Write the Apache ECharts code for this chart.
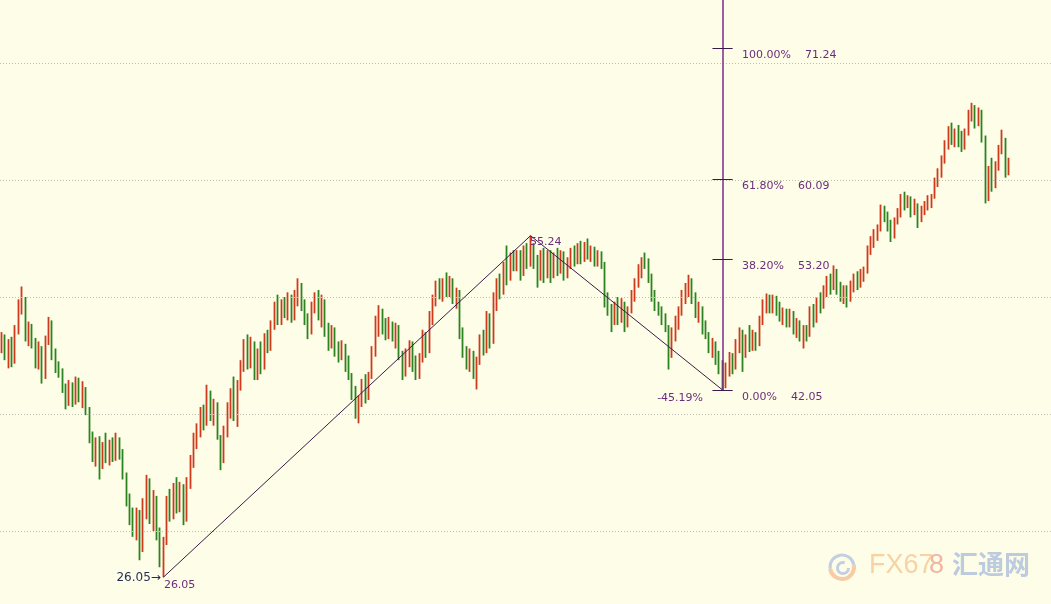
<!DOCTYPE html>
<html><head><meta charset="utf-8">
<script src="https://cdn.jsdelivr.net/npm/echarts@6/dist/echarts.min.js"></script>
<style>html,body{margin:0;padding:0;background:#fefee8;}#c{width:1051px;height:604px;}</style>
</head><body><div id="c"></div><script>
// Each bar: [open, close, low, high]
const bars = [
[45.5,46.5,45.2,47.0],[46.5,45.0,44.6,46.8],[45.0,46.0,43.9,46.4],[46.0,44.6,44.0,46.6],[44.6,47.2,44.3,47.6],
[47.2,49.4,46.8,49.8],[49.4,50.2,48.5,50.9],[49.8,46.6,46.2,50.0],[46.6,47.4,45.8,47.9],[47.4,46.0,45.6,47.7],
[46.0,44.3,43.9,46.5],[44.3,45.5,43.8,46.2],[45.5,43.2,42.6,45.8],[43.2,46.3,43.0,46.7],[46.3,47.8,45.9,48.3],
[47.8,45.0,44.6,48.0],[45.0,44.0,43.5,45.6],[44.0,43.6,43.1,44.5],[43.6,42.2,41.8,43.9],[42.2,41.0,40.4,42.6],
[41.0,42.4,40.7,42.9],[42.4,41.1,40.6,42.7],[41.1,42.6,40.8,43.2],[42.6,41.5,41.0,43.1],[41.5,42.0,40.5,42.8],
[42.0,40.3,39.9,42.3],[40.3,38.0,37.5,40.6],[38.0,36.3,35.9,38.5],[36.3,37.6,35.5,38.0],[37.6,35.6,34.4,38.1],
[35.6,37.0,35.3,37.6],[37.0,36.2,35.8,38.4],[36.2,37.4,35.6,37.8],[37.4,36.4,35.9,38.0],[36.4,37.8,36.0,38.4],
[37.8,36.6,36.1,38.0],[36.6,34.8,34.4,37.0],[34.8,32.6,32.1,35.0],[32.6,31.0,30.5,33.2],[31.0,29.8,29.5,32.0],
[29.8,31.5,29.2,32.0],[31.5,28.0,27.5,31.8],[28.5,32.4,28.2,32.8],[32.4,34.2,31.0,34.8],[34.2,31.2,30.6,34.5],
[31.2,32.8,30.0,33.5],[32.8,29.8,29.2,33.0],[29.8,27.6,26.9,30.3],[27.6,29.0,26.05,29.5],[29.0,32.5,28.8,33.0],
[32.5,31.3,30.8,33.6],[31.3,33.4,31.0,34.1],[33.4,32.0,31.5,34.6],[32.0,33.8,31.6,34.2],[33.8,31.0,30.5,34.0],
[31.0,34.2,30.8,34.6],[34.2,36.0,33.6,36.5],[36.0,37.6,35.4,38.4],[37.6,38.6,37.0,39.2],[38.6,40.0,38.0,40.6],
[40.0,39.2,38.6,40.8],[39.2,41.8,39.0,42.5],[41.8,40.0,39.4,42.0],[40.0,40.8,39.0,41.3],[40.8,38.4,37.8,41.0],
[38.4,36.0,35.2,38.2],[36.0,38.6,35.8,39.0],[38.6,40.4,38.0,41.0],[40.4,41.6,39.6,42.2],[41.6,39.6,39.4,43.2],
[39.6,42.6,38.9,42.9],[42.6,44.0,42.0,44.6],[44.0,45.8,43.6,46.4],[45.8,44.4,43.8,46.8],[44.4,45.9,43.9,46.6],
[45.9,43.4,42.9,46.2],[43.4,45.0,42.9,45.6],[45.0,44.0,43.4,46.2],[44.0,46.4,43.8,46.9],[46.4,45.6,45.2,47.2],
[45.6,47.6,45.4,48.0],[47.6,49.2,47.2,49.6],[49.2,48.0,47.6,50.2],[48.0,49.4,47.6,49.8],[49.4,48.6,48.2,50.0],
[48.6,49.8,48.0,50.4],[49.8,48.4,47.8,50.2],[48.4,50.2,48.0,50.6],[50.2,51.0,49.2,51.6],[51.0,49.4,48.8,51.2],
[49.4,48.2,47.6,49.8],[48.2,47.0,46.4,48.6],[47.0,49.0,46.8,49.6],[49.0,50.0,48.6,50.4],[50.0,48.6,48.0,50.6],
[48.6,49.6,47.4,50.2],[49.6,47.0,46.6,49.8],[47.0,46.0,45.4,47.8],[46.0,47.2,45.6,47.6],[47.2,45.6,44.9,47.4],
[45.6,44.8,44.4,46.2],[44.8,45.8,44.6,46.3],[45.8,44.2,43.6,46.0],[44.2,43.4,42.9,45.0],[43.4,42.0,41.2,43.5],
[42.0,40.2,39.6,42.4],[40.2,41.2,39.2,41.6],[41.2,42.6,40.6,43.0],[42.6,41.4,40.9,43.4],[41.4,43.2,41.2,43.6],
[43.2,45.2,43.0,45.8],[45.2,47.8,44.9,48.4],[47.8,48.8,46.6,49.3],[48.8,47.4,46.8,49.0],[47.4,46.8,46.3,48.2],
[46.8,47.6,46.4,48.3],[47.6,46.6,46.2,47.9],[46.6,47.4,45.6,47.8],[47.4,45.0,44.6,47.6],[45.0,43.6,42.9,45.4],
[43.6,45.2,43.2,45.6],[45.2,46.0,44.0,46.3],[46.0,44.4,43.6,46.2],[44.4,43.4,42.9,45.0],[43.4,44.8,43.0,45.2],
[44.8,46.6,44.4,47.2],[46.6,45.4,44.8,47.0],[45.4,48.2,45.2,48.8],[48.2,49.6,47.6,50.2],[49.6,51.0,49.2,51.4],
[51.0,50.2,49.8,51.6],[50.2,51.2,49.6,51.6],[51.2,50.6,50.0,52.1],[50.6,51.4,50.0,51.8],[51.4,49.8,49.4,51.6],
[49.8,50.4,49.0,50.8],[50.4,47.2,46.4,50.6],[47.2,45.4,44.8,47.4],[45.4,44.4,43.8,45.8],[44.4,45.2,43.6,45.6],
[45.2,43.6,43.0,45.4],[43.6,44.6,42.1,44.9],[44.6,46.4,44.2,46.8],[46.4,45.4,45.0,47.2],[45.4,48.2,45.2,48.8],
[48.2,46.4,45.6,48.6],[46.4,49.8,46.0,50.4],[49.8,51.0,48.8,51.6],[51.0,50.4,49.8,52.0],[50.4,52.6,50.2,53.0],
[52.6,51.6,51.0,54.4],[51.6,53.2,51.4,53.8],[53.2,52.6,52.2,54.0],[52.6,53.6,52.2,54.0],[53.6,52.2,51.4,54.0],
[52.2,53.8,51.8,54.4],[53.8,52.8,52.4,54.6],[52.8,54.2,52.6,55.24],[54.2,53.0,52.4,54.6],[53.0,51.6,50.8,53.6],
[51.6,53.4,51.4,54.0],[53.4,52.0,51.2,54.2],[52.0,53.6,51.6,54.0],[53.6,51.8,51.2,54.0],[51.8,53.2,51.6,53.8],
[53.2,52.4,51.8,54.2],[52.4,53.6,52.0,54.0],[53.6,52.2,51.4,53.9],[52.2,53.0,51.6,53.4],[53.0,53.8,52.4,54.2],
[53.8,53.0,52.6,54.4],[53.0,54.2,52.8,54.6],[54.2,53.4,52.8,54.8],[53.4,54.4,53.0,54.7],[54.4,53.6,53.2,55.0],
[53.6,54.0,53.0,54.4],[54.0,53.0,52.6,54.3],[53.0,53.8,52.6,54.0],[53.8,52.8,52.4,53.9],[52.8,49.6,49.1,53.0],
[49.6,49.0,48.4,50.4],[49.0,48.0,47.0,49.4],[48.0,49.2,47.6,49.6],[49.2,48.2,47.6,50.0],[48.2,49.4,47.8,49.9],
[49.4,47.8,47.0,49.6],[47.8,48.8,47.4,49.2],[48.8,50.2,48.6,50.6],[50.2,51.2,49.6,51.6],[51.2,52.4,50.8,52.8],
[52.4,53.0,51.6,53.4],[53.0,52.8,52.4,53.8],[52.8,51.6,51.2,53.3],[51.6,50.2,49.6,52.0],[50.2,49.4,48.8,50.6],
[49.4,48.8,48.4,49.6],[48.8,48.2,47.6,49.2],[48.2,47.6,47.0,48.6],[47.0,45.0,43.8,47.6],[45.0,46.8,44.8,47.4],
[46.8,47.8,46.2,48.4],[47.8,48.8,47.2,49.2],[48.8,50.0,48.4,50.6],[50.0,50.8,49.4,51.2],[50.8,51.4,50.0,51.9],
[51.4,49.8,49.4,51.6],[49.8,48.6,48.2,50.4],[48.6,49.0,47.8,49.6],[49.0,47.4,46.8,49.2],[47.4,46.8,46.4,48.0],
[46.8,45.6,45.2,47.0],[45.6,46.0,44.8,46.5],[46.0,44.8,44.2,46.2],[44.8,44.0,43.4,45.4],[44.0,42.6,42.05,44.6],
[42.6,43.8,42.2,44.4],[43.8,44.8,43.2,45.3],[44.8,44.0,43.4,45.2],[44.0,45.8,43.8,46.4],[45.8,47.0,45.2,47.4],
[47.0,45.0,43.6,47.2],[45.0,46.4,44.8,46.8],[46.4,45.8,45.3,47.6],[45.8,46.6,45.4,47.2],[46.6,46.0,45.4,47.0],
[46.0,47.8,45.8,48.4],[47.8,49.4,47.6,49.8],[49.4,49.8,48.6,50.3],[49.8,49.0,48.6,50.2],[49.0,49.8,48.6,50.2],
[49.8,49.0,48.4,50.1],[49.0,48.4,47.9,49.6],[48.4,48.8,47.6,49.1],[48.8,47.8,47.4,49.0],[47.8,48.6,47.4,49.0],
[48.6,47.4,46.8,48.8],[47.4,47.8,46.5,48.2],[47.8,46.6,46.2,48.0],[46.6,47.2,45.6,47.6],[47.2,46.8,46.2,47.6],
[46.8,48.8,46.6,49.2],[48.8,48.0,47.4,49.4],[48.0,49.6,47.8,50.0],[49.6,49.2,48.6,50.4],[49.2,50.6,49.0,51.0],
[50.6,51.4,50.0,51.8],[51.4,50.8,50.2,52.0],[50.8,52.2,50.6,52.7],[52.2,50.8,50.2,52.4],[50.8,50.2,49.6,51.3],
[50.2,50.6,49.4,51.0],[50.6,49.8,49.1,51.0],[49.8,50.8,49.6,51.4],[50.8,51.6,50.4,52.0],[51.6,51.0,50.6,52.2],
[51.0,52.0,50.8,52.4],[52.0,52.2,51.3,52.6],[52.2,54.0,52.0,54.4],[54.0,54.8,53.6,55.2],[54.8,55.4,54.2,55.8],
[55.4,55.8,54.8,56.2],[55.8,57.4,55.6,57.9],[57.4,56.8,56.4,57.8],[56.8,56.0,55.6,57.3],[56.0,55.2,54.7,56.6],
[55.2,56.4,55.0,56.8],[56.4,57.0,56.2,57.6],[57.0,58.4,56.8,58.8],[58.4,58.0,57.4,59.0],[58.0,58.4,57.6,58.7],
[58.4,57.4,56.8,58.6],[57.4,57.8,57.0,58.4],[57.8,56.6,55.9,58.0],[56.6,57.4,56.4,57.8],[57.4,57.8,57.0,58.2],
[57.8,58.2,57.4,58.7],[58.2,58.6,57.6,58.8],[58.6,59.8,58.4,60.2],[59.8,60.6,59.4,61.0],[60.6,61.6,60.2,62.1],
[61.6,63.0,61.4,63.4],[63.0,64.2,62.6,64.6],[64.2,63.4,63.0,64.9],[63.4,64.0,62.8,64.4],[64.0,63.4,62.8,64.7],
[63.4,62.8,62.4,64.2],[62.8,64.0,62.6,64.4],[64.0,65.6,63.8,66.0],[65.6,66.0,65.0,66.6],[66.0,65.0,64.4,66.4],
[65.0,65.8,64.6,66.2],[65.8,63.6,63.2,66.0],[63.6,59.0,58.0,63.8],[59.0,60.4,58.2,61.2],[60.4,59.6,59.0,61.9],
[59.6,61.2,59.3,61.6],[61.2,62.6,60.8,63.0],[62.6,63.4,62.2,64.3],[63.4,61.0,60.2,63.6],[61.0,61.4,60.4,61.9]
];
const SLOTS = 312;                       // category slots across the full width (right side is empty)
const categories = Array.from({length: SLOTS}, (_, i) => String(i));
const gridLevels = [30, 40, 50, 60, 70];
const Y_MIN = 23.76, Y_MAX = 75.385;
// Fibonacci annotation
const swingLow = {idx: 48, price: 26.05};
const swingHigh = {idx: 157, price: 55.24};
const fibBase = {idx: 214, price: 42.05};
const fibPct = ['100.00%', '61.80%', '38.20%', '0.00%'];
const fibPrice = [71.24, 60.09, 53.20, 42.05];
const retraceLabel = '-45.19%';

const purple = '#6b2d7b';
const chart = echarts.init(document.getElementById('c'), null, {renderer: 'canvas'});

const markLines = [];
gridLevels.forEach(v => markLines.push({yAxis: v, lineStyle: {color: '#bdbdb3', type: [1, 2], width: 1}}));
markLines.push([{coord: [swingLow.idx, swingLow.price]}, {coord: [swingHigh.idx, swingHigh.price]}]);
markLines.push([{coord: [swingHigh.idx, swingHigh.price]}, {coord: [fibBase.idx, fibBase.price]}]);
markLines.push([{coord: [fibBase.idx, Y_MAX], lineStyle: {color: '#7a2a8c', width: 1.5}}, {coord: [fibBase.idx, fibBase.price]}]);
fibPrice.forEach(p => markLines.push([{coord: [fibBase.idx - 3, p], lineStyle: {color: '#3a1a48', width: 1}}, {coord: [fibBase.idx + 3, p]}]));

const lblFont = {fontFamily: 'DejaVu Sans', fontSize: 11, color: purple};
const markPoints = [];
fibPrice.forEach((p, k) => markPoints.push({
  coord: [fibBase.idx, p],
  label: Object.assign({show: true, position: 'right', distance: 0, offset: [19, 7], formatter: fibPct[k] + '    ' + p.toFixed(2)}, lblFont)
}));
markPoints.push({coord: [fibBase.idx, fibBase.price],
  label: Object.assign({show: true, position: 'left', distance: 0, offset: [-19, 8], formatter: retraceLabel}, lblFont)});
markPoints.push({coord: [swingHigh.idx, swingHigh.price],
  label: Object.assign({show: true, position: 'right', distance: 0, offset: [-1, 6], formatter: swingHigh.price.toFixed(2)}, lblFont)});
markPoints.push({coord: [swingLow.idx, swingLow.price],
  label: Object.assign({show: true, position: 'right', distance: 0, offset: [0, 8], formatter: swingLow.price.toFixed(2)}, lblFont)});
markPoints.push({coord: [swingLow.idx, swingLow.price],
  label: {show: true, position: 'left', distance: 0, offset: [-2, 1], formatter: swingLow.price.toFixed(2) + '→',
    fontFamily: 'DejaVu Sans', fontSize: 12, color: '#1f2d50'}});

chart.setOption({
  animation: false,
  backgroundColor: '#fefee8',
  grid: {left: 0, right: 0, top: 0, bottom: 0},
  xAxis: {type: 'category', data: categories, boundaryGap: true, show: false},
  yAxis: {type: 'value', min: Y_MIN, max: Y_MAX, show: false, splitLine: {show: false}},
  graphic: [
    {type: 'arc', shape: {cx: 842, cy: 567, r: 12, startAngle: Math.PI * 0.95, endAngle: Math.PI * 1.95}, style: {stroke: '#c3cfe0', lineWidth: 3, fill: null}},
    {type: 'arc', shape: {cx: 842, cy: 567, r: 12, startAngle: -Math.PI * 0.05, endAngle: Math.PI * 0.95}, style: {stroke: '#f7cba6', lineWidth: 4, fill: null}},
    {type: 'arc', shape: {cx: 843, cy: 568, r: 5.5, startAngle: 0, endAngle: Math.PI * 1.6}, style: {stroke: '#c3cfe0', lineWidth: 3, fill: null}},
    {type: 'text', left: 869, top: 552, style: {text: 'FX67', fontFamily: 'Liberation Sans', fontSize: 27, fill: '#f8d2a4'}},
    {type: 'text', left: 929, top: 552, style: {text: '8', fontFamily: 'Liberation Sans', fontSize: 27, fill: '#f3b4a2'}},
    {type: 'text', left: 952, top: 551, style: {text: '汇通网', fontFamily: 'Noto Sans CJK SC', fontWeight: 'bold', fontSize: 26, fill: '#bccbde'}}
  ],
  series: [{
    type: 'candlestick',
    data: bars,
    barWidth: 0.5,
    itemStyle: {color: '#cf3a1c', color0: '#2b8420', borderColor: '#cf3a1c', borderColor0: '#2b8420', borderWidth: 1.8},
    markLine: {silent: true, symbol: ['none', 'none'], label: {show: false},
      lineStyle: {color: '#3a1a48', width: 1, type: 'solid'}, data: markLines},
    markPoint: {silent: true, symbol: 'rect', symbolSize: 1, itemStyle: {color: 'rgba(0,0,0,0)'}, data: markPoints}
  }]
});
</script></body></html>
